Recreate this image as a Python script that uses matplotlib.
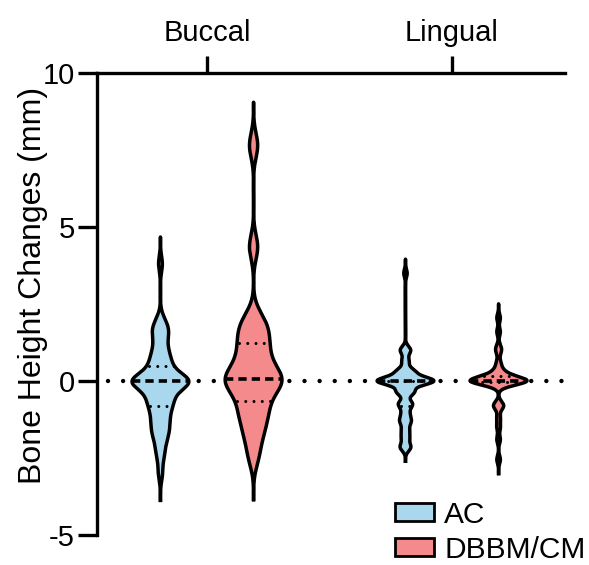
import numpy as np
import matplotlib
matplotlib.use('Agg')
import matplotlib.pyplot as plt
from matplotlib.patches import Patch

plt.rcParams['font.family'] = ['Liberation Sans', 'DejaVu Sans']
plt.rcParams['axes.unicode_minus'] = False

# DATA
sites = ['Buccal', 'Lingual']
groups = ['AC', 'DBBM/CM']
colors = ['#a9d8ee', '#f48a8b']

ac_buccal = [3.8, 2.0, 1.75, 1.75, 1.5, 1.5, 1.25, 1.0, 1.0, 0.75, 0.75, 0.5, 0.5, 0.5, 0.25, 0.25,
             0.0, 0.0, 0.0, 0.0, 0.0, 0.0, 0.0, 0.0, 0.0, 0.0, 0.0,
             -0.25, -0.25, -0.25, -0.5, -0.5, -0.5, -0.75, -0.75, -0.75, -1.0, -1.0,
             -1.25, -1.25, -1.5, -1.5, -1.75, -1.75, -2.0, -2.25, -2.5, -3.0]
dbbm_buccal = [7.65, 4.35, 2.05, 1.8, 1.55, 1.3, 1.05, 0.8, 0.55, 0.35, 0.15,
               0.0, 0.0, 0.0,
               -0.2, -0.4, -0.75, -0.9, -1.2, -1.5, -1.85, -2.45]
ac_lingual = [3.5, 1.0, 1.0, 1.0, 0.65, 0.65, 0.3, 0.3, 0.3, 0.3, 0.3,
              0.0, 0.0, 0.0, 0.0, 0.0, 0.0, 0.0, 0.0, 0.0, 0.0, 0.0, 0.0, 0.0, 0.0, 0.0, 0.0,
              -0.35, -0.35, -0.35, -0.35, -0.35, -0.75, -0.75, -0.75, -0.75,
              -1.05, -1.05, -1.3, -1.3, -1.3, -1.6, -1.6, -1.85, -1.85, -2.15, -2.15, -2.15]
dbbm_lingual = [2.05, 1.6, 1.1, 0.95, 0.6, 0.4, 0.25, 0.25, 0.15, 0.15,
                0.0, 0.0, 0.0, 0.0, 0.0, 0.0, 0.0, 0.0, 0.0, 0.0, 0.0, 0.0, 0.0, 0.0,
                -0.15, -0.75, -0.8, -0.85, -1.2, -1.5, -1.9, -2.55]

violins = [[ac_buccal, dbbm_buccal], [ac_lingual, dbbm_lingual]]
# kernel bandwidth of each violin (mm)
bandwidths = [[0.25, 0.4], [0.13, 0.13]]


def kde(values, bw):
    """
        Gaussian density, extended 3.5 bandwidths past the data
    """
    values = np.asarray(values, dtype=float)
    y = np.linspace(values.min() - 3.5 * bw, values.max() + 3.5 * bw, 800)
    d = np.exp(-0.5 * ((y[:, None] - values[None, :]) / bw) ** 2).sum(axis=1)
    return y, d / d.max()


fig = plt.figure(figsize=(5.89, 5.65), dpi=100)
ax = fig.add_axes([97 / 589, 1 - 535 / 565, (565 - 97) / 589, (535 - 73) / 565])

half = 0.116
offset = 0.19

# zero reference line
ax.plot([0.596, 2.461], [0, 0], color='black', lw=3.2,
        ls=(0, (0.001, 3.4)), dash_capstyle='round', zorder=1)

for i, site in enumerate(sites):
    for j, grp in enumerate(groups):
        vals = violins[i][j]
        x = i + 1 + (j - 0.5) * 2 * offset
        y, d = kde(vals, bandwidths[i][j])
        w = d * half
        ax.fill_betweenx(y, x - w, x + w, facecolor=colors[j], edgecolor='none', zorder=2)
        ax.plot(np.r_[x - w, (x + w)[::-1], x - w[0]], np.r_[y, y[::-1], y[0]],
                color='black', lw=2.5, zorder=3)
        q1, med, q3 = np.percentile(vals, [25, 50, 75])
        for q, style in [(q1, 'dot'), (q3, 'dot'), (med, 'dash')]:
            wq = np.interp(q, y, w)
            if style == 'dash':
                ax.plot([x - wq, x + wq], [q, q], color='black', lw=2.6,
                        ls=(0, (2.3, 1.4)), solid_capstyle='butt', zorder=4)
            else:
                ax.plot([x - wq + 0.01, x + wq], [q, q], color='black', lw=2.2,
                        ls=(0, (0.001, 2.7)), dash_capstyle='round', zorder=4)

ax.set_xlim(0.551, 2.461)
ax.set_ylim(-5, 10)
ax.spines['bottom'].set_visible(False)
ax.spines['right'].set_visible(False)
ax.spines['top'].set_linewidth(2.4)
ax.spines['left'].set_linewidth(2.4)
ax.xaxis.tick_top()
ax.set_xticks([1, 2], sites)
ax.set_yticks([-5, 0, 5, 10])
ax.tick_params(axis='x', length=12, width=2.4, pad=7, labelsize=21)
ax.tick_params(axis='y', length=14, width=2.4, pad=2, labelsize=21)
ax.set_ylabel('Bone Height Changes (mm)', fontsize=23)
ax.yaxis.set_label_coords(-0.105, 0.541)

handles = [Patch(facecolor=c, edgecolor='black', lw=2) for c in colors]
fig.legend(handles, groups, loc='upper left', bbox_to_anchor=(395 / 589, 1 - 501 / 565),
           frameon=False, fontsize=21.5, handlelength=1.3, handleheight=0.55,
           handletextpad=0.35, labelspacing=0.22, borderpad=0, borderaxespad=0)

fig.savefig('out.png', dpi=100)
